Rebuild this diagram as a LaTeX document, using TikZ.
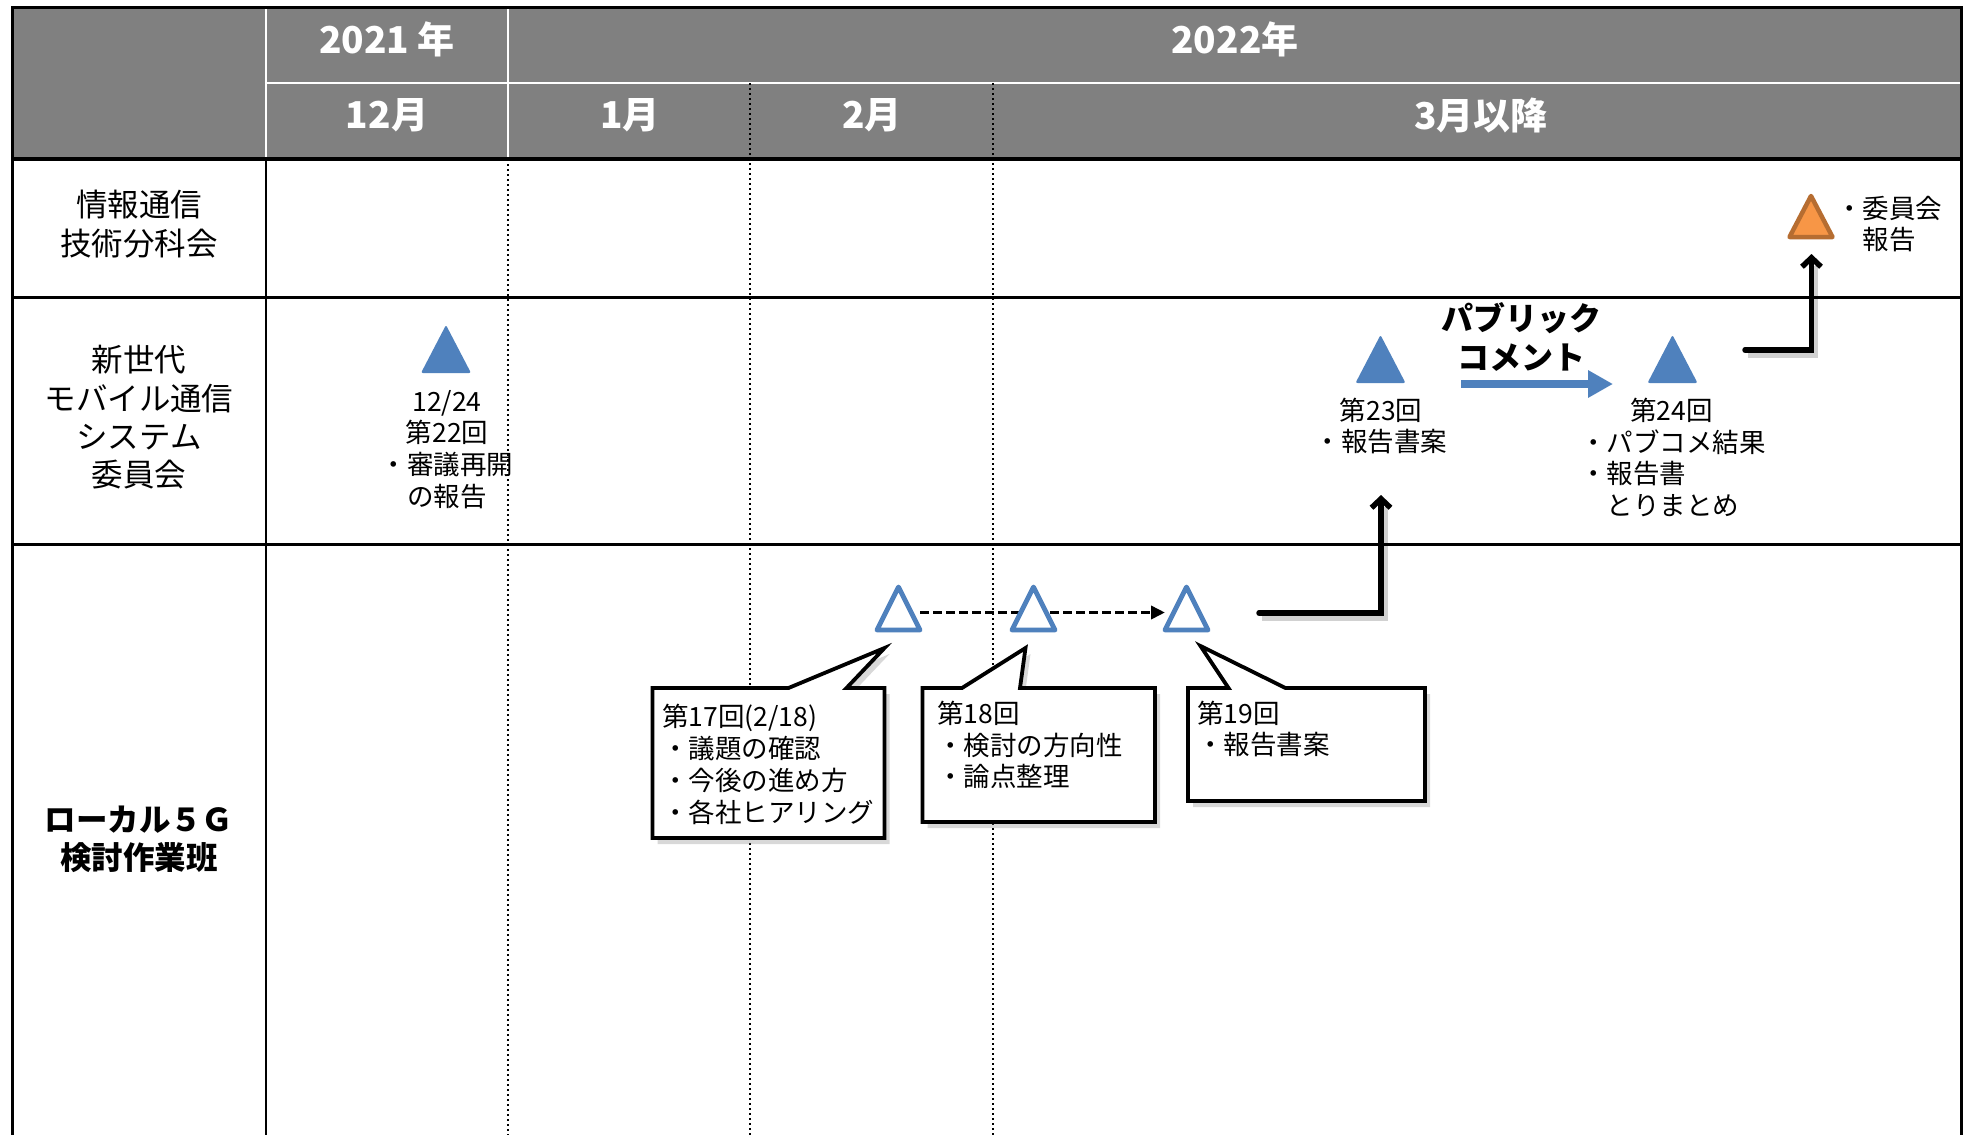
\documentclass[tikz,border=0pt]{standalone}
\usepackage{fontspec}
\setmainfont{Noto Sans CJK JP}
\usetikzlibrary{arrows.meta,shadows,calc}
\definecolor{hdrgray}{HTML}{808080}
\definecolor{triblue}{HTML}{4F81BD}
\definecolor{triorange}{HTML}{F79646}
\definecolor{oredge}{HTML}{B66D31}
\newcommand\hdrfnt{\fontsize{37}{44}\selectfont\bfseries}
\newcommand\rowfnt{\fontsize{31.5}{38.3}\selectfont}
\newcommand\txtfnt{\fontsize{26.5}{31.8}\selectfont}
\begin{document}
\begin{tikzpicture}[x=1pt,y=-1pt,
  hdr/.style={text=white,font=\hdrfnt,inner sep=0pt},
  rowlab/.style={font=\rowfnt,align=center,inner sep=0pt},
  rowlabb/.style={font=\rowfnt\bfseries,align=center,inner sep=0pt},
  txt/.style={font=\txtfnt,inner sep=0pt},
  gridline/.style={line width=2.7pt},
  dotline/.style={line width=1.8pt,dash pattern=on 2.2pt off 2.8pt},
  tribox/.style={inner sep=0pt,outer sep=0pt,minimum width=50pt,minimum height=48pt},
  otribox/.style={inner sep=0pt,outer sep=0pt,minimum width=43pt,minimum height=43pt},
  filltri/.style={fill=triblue,rounded corners=2pt},
  opentri/.style={draw=triblue,fill=white,line width=4.8pt,line join=round},
  cbox/.style={inner sep=0pt,outer sep=0pt},
  calloutline/.style={draw=black,fill=white,line width=3.8pt,
    drop shadow={shadow xshift=5pt,shadow yshift=-6pt,opacity=.3}},
  blkarrow/.style={line width=5.5pt,line cap=round,-{Straight Barb[length=9pt,width=19pt]}},
  shadowline/.style={line width=5.5pt,black,opacity=.18},
  dasharrow/.style={line width=3.5pt,dash pattern=on 9pt off 4pt,-{Triangle[length=14pt,width=13pt]}},
  bluearrow/.style={draw=triblue,line width=7.5pt,-{Triangle[length=25pt,width=26pt]}}
]
\useasboundingbox (0,0) rectangle (1968,1135);
\fill[white] (0,0) rectangle (1968,1135);
% header
\fill[hdrgray] (12,7) rectangle (1961,159);
\draw[white,line width=2.5pt] (266,7) -- (266,159);
\draw[white,line width=2.5pt] (508,7) -- (508,159);
\draw[white,line width=2.5pt] (266,83) -- (1961,83);
% grid
\draw[dotline] (508,159) -- (508,1135);
\draw[dotline] (750,83) -- (750,1135);
\draw[dotline] (993,83) -- (993,1135);
\draw[gridline] (266,159) -- (266,1135);
\draw[gridline] (12,297.5) -- (1961,297.5);
\draw[gridline] (12,544.5) -- (1961,544.5);
\draw[line width=3.5pt] (12,159) -- (1961,159);
\draw[line width=3pt] (12,1135) -- (12,7) -- (1961,7) -- (1961,1135);
% header texts
\node[hdr] (y2021) at (387,39) {2021 年};
\node[hdr] (y2022) at (1235,39) {2022年};
\node[hdr] (m12) at (387,115) {12月};
\node[hdr] (m1) at (630,115) {1月};
\node[hdr] (m2) at (872,115) {2月};
\node[hdr] (m3) at (1481,115) {3月以降};
% row labels
\node[rowlab] (r1) at (139,224) {情報通信\\技術分科会};
\node[rowlab] (r2) at (139,417.5) {新世代\\モバイル通信\\システム\\委員会};
\node[rowlabb] (r3) at (139,839) {ローカル５Ｇ\\検討作業班};
% filled triangles
\node[tribox] (tA) at (446,349) {};
\node[tribox] (t23) at (1380.5,359) {};
\node[tribox] (t24) at (1672.5,359) {};
\node[inner sep=0pt,outer sep=0pt,minimum width=43pt,minimum height=41pt] (tO) at (1811,216.5) {};
\fill[filltri] (tA.south west) -- (tA.north) -- (tA.south east) -- cycle;
\fill[filltri] (t23.south west) -- (t23.north) -- (t23.south east) -- cycle;
\fill[filltri] (t24.south west) -- (t24.north) -- (t24.south east) -- cycle;
\draw[fill=triorange,draw=oredge,line width=4.5pt,line join=round] (tO.south west) -- (tO.north) -- (tO.south east) -- cycle;
% labels
\node[txt,align=center] (lA) at (447,449.5) {12/24\\第22回\\・審議再開\\の報告};
\node[txt,align=center] (l23) at (1381,426) {第23回\\・報告書案};
\node[txt,align=left,anchor=west] (l24) at (1580,457.5) {\hspace*{50pt}第24回\\・パブコメ結果\\・報告書\\　とりまとめ};
\node[txt,align=left,anchor=west] (lO) at (1836,224) {・委員会\\　報告};
\node[font=\fontsize{32}{38.5}\selectfont\bfseries,align=center,inner sep=0pt] (pc) at (1521,337) {パブリック\\コメント};
% public comment arrow
\coordinate (pcs) at (1461,384);
\coordinate (pce) at (1613,384);
\draw[bluearrow] (pcs) -- (pce);
% open triangles and dashed arrow
\node[otribox] (t17) at (898.5,608.5) {};
\node[otribox] (t18) at (1033.5,608.5) {};
\node[otribox] (t19) at (1186.5,608.5) {};
\draw[dasharrow] ([yshift=-4pt]t17.east) -- ([yshift=-4pt]t19.west);
\draw[opentri] (t17.south west) -- (t17.north) -- (t17.south east) -- cycle;
\draw[opentri] (t18.south west) -- (t18.north) -- (t18.south east) -- cycle;
\draw[opentri] (t19.south west) -- (t19.north) -- (t19.south east) -- cycle;
% black arrows
\coordinate (a1s) at (1259,613);
\coordinate (a1e) at (1381,495);
\coordinate (a2s) at (1745,350);
\coordinate (a2e) at (1811.5,254);
\draw[shadowline] ([shift={(3,5)}]a1s) -| ([shift={(4,12)}]a1e);
\draw[shadowline] ([shift={(3,5)}]a2s) -| ([shift={(4,12)}]a2e);
\draw[blkarrow] (a1s) -| (a1e);
\draw[blkarrow] (a2s) -| (a2e);
% callouts
\node[cbox,minimum width=232pt,minimum height=150pt] (c17) at (768.5,763) {};
\node[cbox,minimum width=232.5pt,minimum height=134pt] (c18) at (1038.75,755) {};
\node[cbox,minimum width=237pt,minimum height=113pt] (c19) at (1306.5,744.5) {};
\coordinate (p17) at (884.5,648);
\coordinate (p18) at (1025.5,648);
\coordinate (p19) at (1200.5,646);
\path[calloutline] (c17.north west) -- (788.5,688) -- (p17) -- (846.5,688) -- (c17.north east) -- (c17.south east) -- (c17.south west) -- cycle;
\path[calloutline] (c18.north west) -- (962,688) -- (p18) -- (1020,688) -- (c18.north east) -- (c18.south east) -- (c18.south west) -- cycle;
\path[calloutline] (c19.north west) -- (1228.5,688) -- (p19) -- (1285.5,688) -- (c19.north east) -- (c19.south east) -- (c19.south west) -- cycle;
\node[txt,align=left,anchor=west] (c17t) at (662,764.5) {第17回(2/18)\\・議題の確認\\・今後の進め方\\・各社ヒアリング};
\node[txt,align=left,anchor=west] (c18t) at (937,745) {第18回\\・検討の方向性\\・論点整理};
\node[txt,align=left,anchor=west] (c19t) at (1197,729) {第19回\\・報告書案};
\end{tikzpicture}
\end{document}
